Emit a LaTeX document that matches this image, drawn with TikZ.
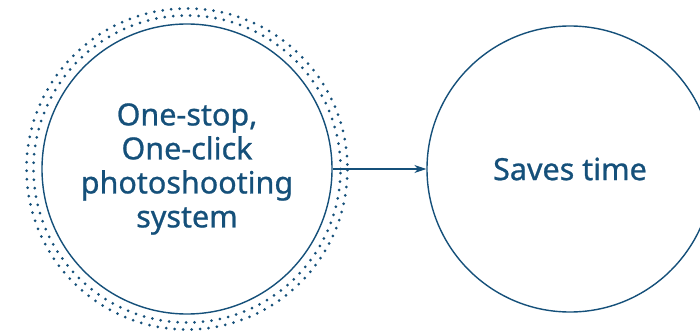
\documentclass[tikz,border=0pt]{standalone}
\usepackage{fontspec}
\setmainfont{Noto Sans}[FakeBold=0.8]
\usetikzlibrary{arrows.meta}
\definecolor{navy}{HTML}{15507A}
\begin{document}
\begin{tikzpicture}[x=1pt,y=1pt,
  circ/.style={circle,draw=navy,line width=1.4pt,minimum size=#1,inner sep=0pt,
    text=navy,font=\fontsize{30.5}{34}\selectfont\bfseries,align=center},
  dotring/.style={draw=navy,line width=3pt,line cap=round,dash pattern=on 0pt off 8.5pt}]
\useasboundingbox (0,0) rectangle (700,330);
\fill[white] (0,0) rectangle (700,330);
\draw[dotring] (187,161) circle (153.5);
\draw[dotring,rotate around={1.6:(187,161)}] (187,161) circle (160.5);
\node[circ=290pt] (a) at (187,161) {One-stop,\\One-click\\photoshooting\\system};
\node[circ=286pt] (b) at (570,161) {Saves time};
\draw[navy,line width=1.2pt,-{Stealth[length=12pt,width=8pt]}] (a.east) -- (b.west);
\end{tikzpicture}
\end{document}
